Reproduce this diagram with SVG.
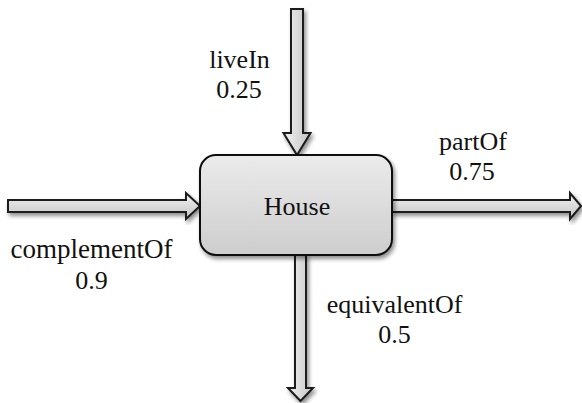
<svg xmlns="http://www.w3.org/2000/svg" width="582" height="403" viewBox="0 0 582 403">
  <defs>
    <linearGradient id="boxFill" x1="0" y1="0" x2="0" y2="1">
      <stop offset="0" stop-color="#ebebeb"/>
      <stop offset="1" stop-color="#cdcdcd"/>
    </linearGradient>
    <linearGradient id="arrowH" x1="0" y1="0" x2="0" y2="1">
      <stop offset="0" stop-color="#f2f2f2"/>
      <stop offset="1" stop-color="#c4c4c4"/>
    </linearGradient>
    <linearGradient id="arrowV" x1="0" y1="0" x2="1" y2="0">
      <stop offset="0" stop-color="#f2f2f2"/>
      <stop offset="1" stop-color="#c4c4c4"/>
    </linearGradient>
    <filter id="shadow" x="-20%" y="-20%" width="140%" height="140%">
      <feGaussianBlur in="SourceAlpha" stdDeviation="2"/>
      <feOffset dx="2" dy="3" result="blur"/>
      <feComponentTransfer><feFuncA type="linear" slope="0.45"/></feComponentTransfer>
      <feMerge><feMergeNode/><feMergeNode in="SourceGraphic"/></feMerge>
    </filter>
  </defs>
  <style>
    .arrow { stroke: #1a1a1a; stroke-width: 2; stroke-linejoin: miter; filter: url(#shadow); }
    .h { fill: url(#arrowH); }
    .v { fill: url(#arrowV); }
    .box { fill: url(#boxFill); stroke: #111; stroke-width: 2; filter: url(#shadow); }
    .lbl { font-family: "Liberation Serif", "Times New Roman", serif; font-size: 26px; fill: #111; text-anchor: middle; }
  </style>

  <g id="connectors">
    <!-- liveIn: from the top into the box -->
    <path class="arrow v" d="M291,9 H303 V133 H310.5 L297,155 L283.5,133 H291 Z"/>
    <!-- complementOf: from the left into the box -->
    <path class="arrow h" d="M8,200 H186 V193 L200,206 L186,219 V212 H8 Z"/>
    <!-- partOf: out of the box to the right -->
    <path class="arrow h" d="M392,200 H570 V193 L581,206 L570,219 V212 H392 Z"/>
    <!-- equivalentOf: out of the box downward -->
    <path class="arrow v" d="M295,255 H306 V388 H313 L300.5,401 L288,388 H295 Z"/>
  </g>

  <g id="house">
    <rect class="box" x="200" y="155" width="192" height="100" rx="16" ry="16"/>
    <text class="lbl" x="297" y="215">House</text>
  </g>

  <g id="label-liveIn">
    <text class="lbl" x="239.5" y="68">liveIn</text>
    <text class="lbl" x="239" y="98">0.25</text>
  </g>
  <g id="label-partOf">
    <text class="lbl" x="473" y="150">partOf</text>
    <text class="lbl" x="472" y="180">0.75</text>
  </g>
  <g id="label-complementOf">
    <text class="lbl" x="91.5" y="258" style="font-size:27px">complementOf</text>
    <text class="lbl" x="91.5" y="289">0.9</text>
  </g>
  <g id="label-equivalentOf">
    <text class="lbl" x="394.5" y="313">equivalentOf</text>
    <text class="lbl" x="394.5" y="343">0.5</text>
  </g>
</svg>
